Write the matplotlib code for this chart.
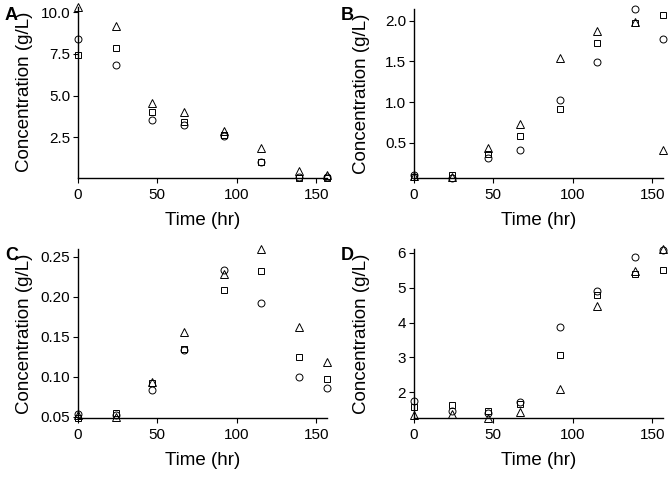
import matplotlib
matplotlib.use('Agg')
import matplotlib.pyplot as plt
from matplotlib.ticker import FormatStrFormatter

plt.rcParams['font.family'] = ['Liberation Sans', 'DejaVu Sans']

# sampling times (hr)
time = [0, 24, 47, 67, 92, 115, 139, 156.5]

# panel A
a_circle = [8.40, 6.84, 3.56, 3.26, 2.60, 1.02, 0.10, 0.12]
a_square = [7.46, 7.84, 4.02, 3.42, 2.66, 1.04, 0.07, 0.08]
a_triangle = [10.34, 9.16, 4.54, 4.00, 2.90, 1.86, 0.50, 0.22]

# panel B
b_circle = [0.10, 0.07, 0.31, 0.41, 1.02, 1.49, 2.14, 1.77]
b_square = [0.08, 0.10, 0.36, 0.58, 0.915, 1.72, 1.97, 2.07]
b_triangle = [0.09, 0.08, 0.43, 0.73, 1.545, 1.87, 1.99, 0.41]

# panel C
c_circle = [0.054, 0.052, 0.084, 0.134, 0.234, 0.193, 0.100, 0.086]
c_square = [0.049, 0.055, 0.092, 0.135, 0.209, 0.232, 0.125, 0.097]
c_triangle = [0.052, 0.050, 0.094, 0.156, 0.229, 0.2595, 0.163, 0.119]

# panel D
d_circle = [1.76, 1.45, 1.41, 1.71, 3.86, 4.89, 5.87, 6.08]
d_square = [1.59, 1.62, 1.45, 1.65, 3.07, 4.80, 5.39, 5.50]
d_triangle = [1.35, 1.37, 1.27, 1.43, 2.10, 4.48, 5.49, 6.10]

panels = [
    ('A', a_circle, a_square, a_triangle, [2.5, 5.0, 7.5, 10.0], '%.1f'),
    ('B', b_circle, b_square, b_triangle, [0.5, 1.0, 1.5, 2.0], '%.1f'),
    ('C', c_circle, c_square, c_triangle, [0.05, 0.10, 0.15, 0.20, 0.25], '%.2f'),
    ('D', d_circle, d_square, d_triangle, [2, 3, 4, 5, 6], '%d'),
]

W, H = 672, 480
fig = plt.figure(figsize=(6.72, 4.8), dpi=100)

# axes boxes in pixels: left, right, top, bottom ; cell origin x, y
boxes = [(77.7, 326.7, 6.7, 177.7, 0, 0), (413.7, 662.7, 9.3, 177.7, 336, 0),
         (77.7, 326.7, 249.3, 417.7, 0, 240), (413.7, 662.7, 249.3, 417.7, 336, 240)]

for (tag, circ, sq, tri, yt, fmt), (l, r, t, b, cx, cy) in zip(panels, boxes):
    ax = fig.add_axes([l / W, 1 - b / H, (r - l) / W, (b - t) / H])
    ax.plot(time, circ, 'o', mfc='none', mec='black', ms=5, mew=0.7, clip_on=False)
    ax.plot(time, sq, 's', mfc='none', mec='black', ms=4.8, mew=0.7, clip_on=False)
    ax.plot(time, tri, '^', mfc='none', mec='black', ms=6, mew=0.7, clip_on=False)
    allv = circ + sq + tri
    ax.set_ylim(min(allv), max(allv))
    ax.set_xlim(0, max(time))
    ax.set_xticks([0, 50, 100, 150])
    ax.set_yticks(yt)
    ax.yaxis.set_major_formatter(FormatStrFormatter(fmt))
    for s in ['top', 'right']:
        ax.spines[s].set_visible(False)
    for s in ['left', 'bottom']:
        ax.spines[s].set_linewidth(1.0)
    ax.tick_params(direction='out', length=3.5, width=0.8, labelsize=11, colors='black', pad=2)
    ax.tick_params(axis='x', pad=4)
    ax.set_xlabel('Time (hr)', fontsize=13.5, labelpad=7)
    fig.text((cx + 25) / W, 1 - (t + b) / 2 / H, 'Concentration (g/L)', fontsize=13.5,
             rotation=90, ha='center', va='center')
    fig.text((cx + 5) / W, 1 - (cy + 15) / H, tag, fontsize=13, fontweight='bold',
             ha='left', va='center')

fig.savefig('out.png', dpi=100)
